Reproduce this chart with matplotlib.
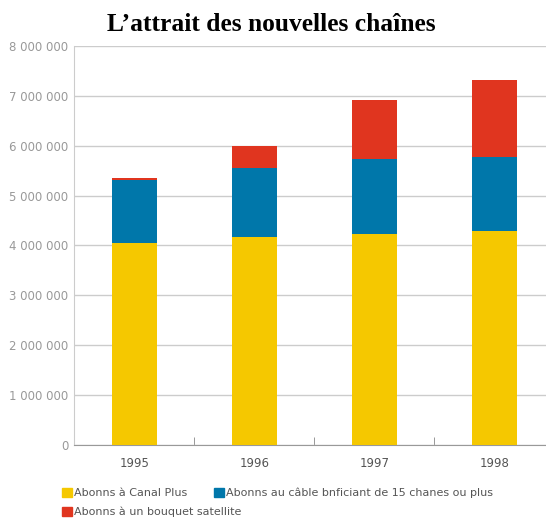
import matplotlib.pyplot as plt
from matplotlib.patches import Patch
from matplotlib.ticker import FuncFormatter, FixedLocator

years = ['1995', '1996', '1997', '1998']
canal_plus = [4050000, 4170000, 4240000, 4290000]
cable = [1270000, 1390000, 1500000, 1480000]
satellite = [30000, 440000, 1170000, 1550000]

labels = ['Abonns à Canal Plus',
          'Abonns au câble bnficiant de 15 chanes ou plus',
          'Abonns à un bouquet satellite']
colors = ['#F5C800', '#0077AA', '#E0351F']

narrow = ['Liberation Sans Narrow', 'DejaVu Sans']

fig = plt.figure(figsize=(5.46, 5.19), dpi=100)
ax = fig.add_axes([0.1355, 0.1426, 0.8645, 0.7688])

x = list(range(len(years)))
bottom2 = [a + b for a, b in zip(canal_plus, cable)]
ax.bar(x, canal_plus, width=0.375, color=colors[0], zorder=3)
ax.bar(x, cable, width=0.375, bottom=canal_plus, color=colors[1], zorder=3)
ax.bar(x, satellite, width=0.375, bottom=bottom2, color=colors[2], zorder=3)

ax.set_xlim(-0.504, 3.43)
ax.set_ylim(0, 8000000)
ax.set_yticks(range(0, 8000001, 1000000))
ax.yaxis.set_major_formatter(FuncFormatter(lambda v, p: f'{int(v):,}'.replace(',', ' ')))
ax.grid(axis='y', color='#cccccc', linewidth=1, zorder=0)

ax.set_xticks(x)
ax.set_xticklabels(years)
ax.xaxis.set_minor_locator(FixedLocator([0.5, 1.5, 2.5]))
ax.tick_params(axis='x', which='major', length=0, pad=9, labelcolor='#555555', labelsize=8.5)
ax.tick_params(axis='x', which='minor', direction='in', length=6, color='#888888')
ax.tick_params(axis='y', length=0, pad=4, labelcolor='#999999', labelsize=8.5)
for lab in ax.get_xticklabels() + ax.get_yticklabels():
    lab.set_family(narrow)

for s in ['top', 'right']:
    ax.spines[s].set_visible(False)
ax.spines['left'].set_color('#cccccc')
ax.spines['bottom'].set_color('#999999')

fig.text(0.497, 0.953, 'L\u2019attrait des nouvelles chaînes', ha='center', va='center',
         family='Liberation Serif', weight='bold', fontsize=18.4)

# legend: two rows, flowing like the original
handles = [Patch(color=c) for c in colors]
leg_kw = dict(frameon=False, handlelength=0.9, handleheight=0.9,
              handletextpad=0.2, columnspacing=2.4,
              borderaxespad=0, borderpad=0,
              prop={'family': narrow, 'size': 8})
leg1 = fig.legend(handles[:2], labels[:2], loc='center left',
                  bbox_to_anchor=(0.113, 0.050), ncol=2, **leg_kw)
leg2 = fig.legend(handles[2:], labels[2:], loc='center left',
                  bbox_to_anchor=(0.113, 0.0135), ncol=1, **leg_kw)
for leg in (leg1, leg2):
    for t in leg.get_texts():
        t.set_color('#555555')

fig.savefig('out.png', dpi=100)
